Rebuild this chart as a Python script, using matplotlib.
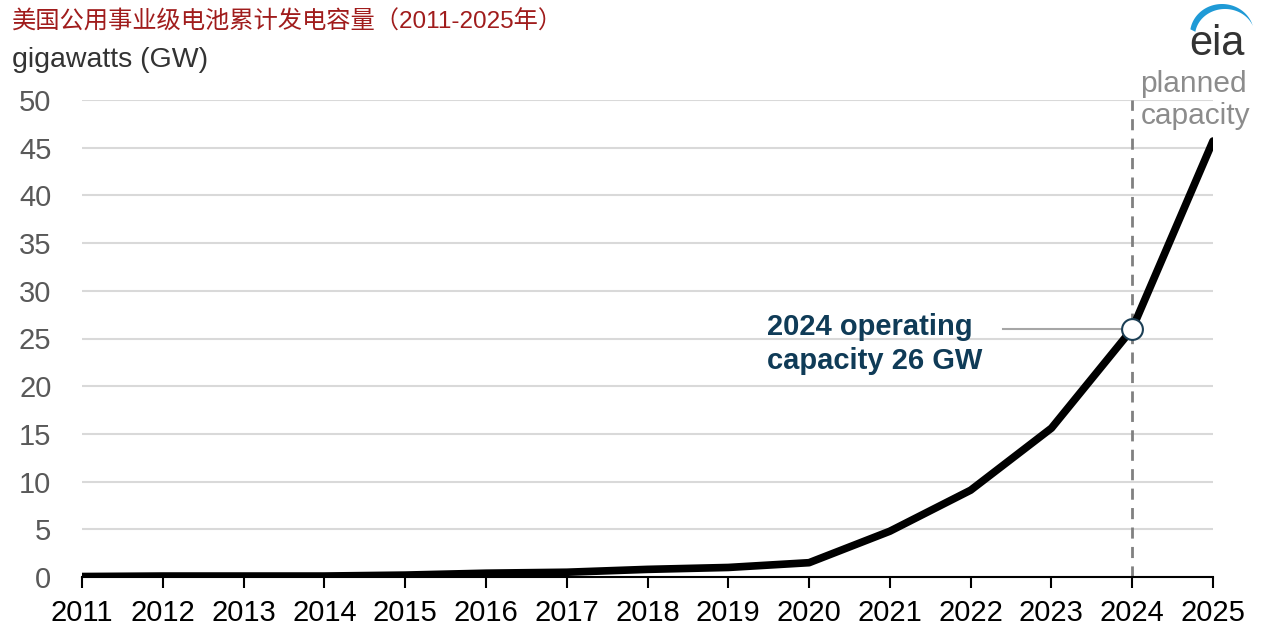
import matplotlib.pyplot as plt
import numpy as np

plt.rcParams['font.family'] = ['Liberation Sans', 'Noto Sans CJK SC', 'DejaVu Sans']

years = [2011, 2012, 2013, 2014, 2015, 2016, 2017, 2018, 2019, 2020, 2021, 2022, 2023, 2024, 2025]
capacity = [0.05, 0.1, 0.1, 0.1, 0.2, 0.4, 0.5, 0.8, 1.0, 1.5, 4.8, 9.1, 15.6, 26.0, 45.7]
yticks = [0, 5, 10, 15, 20, 25, 30, 35, 40, 45, 50]
title = "美国公用事业级电池累计发电容量（2011-2025年）"
unit = "gigawatts (GW)"
note = "2024 operating\ncapacity 26 GW"
note_year = 2024
note_value = 26

fig = plt.figure(figsize=(12.8, 6.36), dpi=100)
ax = fig.add_axes([82/1280, 1-577/636, (1213-82)/1280, (577-100)/636])

ax.plot(years, capacity, color='black', lw=5.5, solid_capstyle='round', solid_joinstyle='round', zorder=3)

ax.set_xlim(2011, 2025)
ax.set_ylim(0, 50)
ax.set_yticks(yticks)
ax.set_xticks(years)
ax.set_xticklabels([str(y) for y in years])
ax.grid(axis='y', color='#d9d9d9', lw=1.5)
ax.set_axisbelow(True)
for s in ['top', 'right', 'left']:
    ax.spines[s].set_visible(False)
ax.spines['bottom'].set_color('black')
ax.spines['bottom'].set_linewidth(1.5)
ax.tick_params(axis='y', length=0, labelsize=21, labelcolor='#595959', pad=22)
ax.tick_params(axis='x', length=8, width=1.5, color='black', labelsize=21, labelcolor='black', pad=8)

# planned capacity divider
ax.axvline(note_year, color='#808080', lw=2, ls=(0, (4, 3)), zorder=2)
ax.text(note_year + 0.1, 53.1, "planned\ncapacity", fontsize=21.5, color='#8c8c8c',
        ha='left', va='top', linespacing=1.15, clip_on=False)

# annotation
ax.plot([note_year - 1.6, note_year - 0.15], [note_value, note_value], color='#a6a6a6', lw=1.5, zorder=2)
ax.plot([note_year], [note_value], marker='o', ms=15, mfc='white', mec='#1c3f55', mew=1.5, zorder=4)
ax.text(2019.48, 24.4, note, fontsize=21, fontweight='bold', color='#0f3b57',
        ha='left', va='center', linespacing=1.25)

fig.text(12/1280, 1-22/636, title, fontsize=17.5, color='#a01c1c', ha='left', va='center')
fig.text(12/1280, 1-60/636, unit, fontsize=20.5, color='#333333', ha='left', va='center')

# eia logo
lax = fig.add_axes([1180/1280, 1-60/636, 85/1280, 58/636])
lax.set_xlim(0, 85)
lax.set_ylim(0, 58)
lax.axis('off')
t = np.linspace(0.12, 0.95, 60) * np.pi
outer_x = 42 + 32 * np.cos(t)
outer_y = 26 + 30 * np.sin(t)
inner_x = 45 + 30 * np.cos(t[::-1])
inner_y = 24 + 27 * np.sin(t[::-1])
lax.fill(np.concatenate([outer_x, inner_x]), np.concatenate([outer_y, inner_y]), color='#1f9ad6', lw=0)
lax.text(37, 5, "eia", fontsize=30, color='#333333', ha='center', va='baseline')

plt.savefig('out.png', dpi=100)
